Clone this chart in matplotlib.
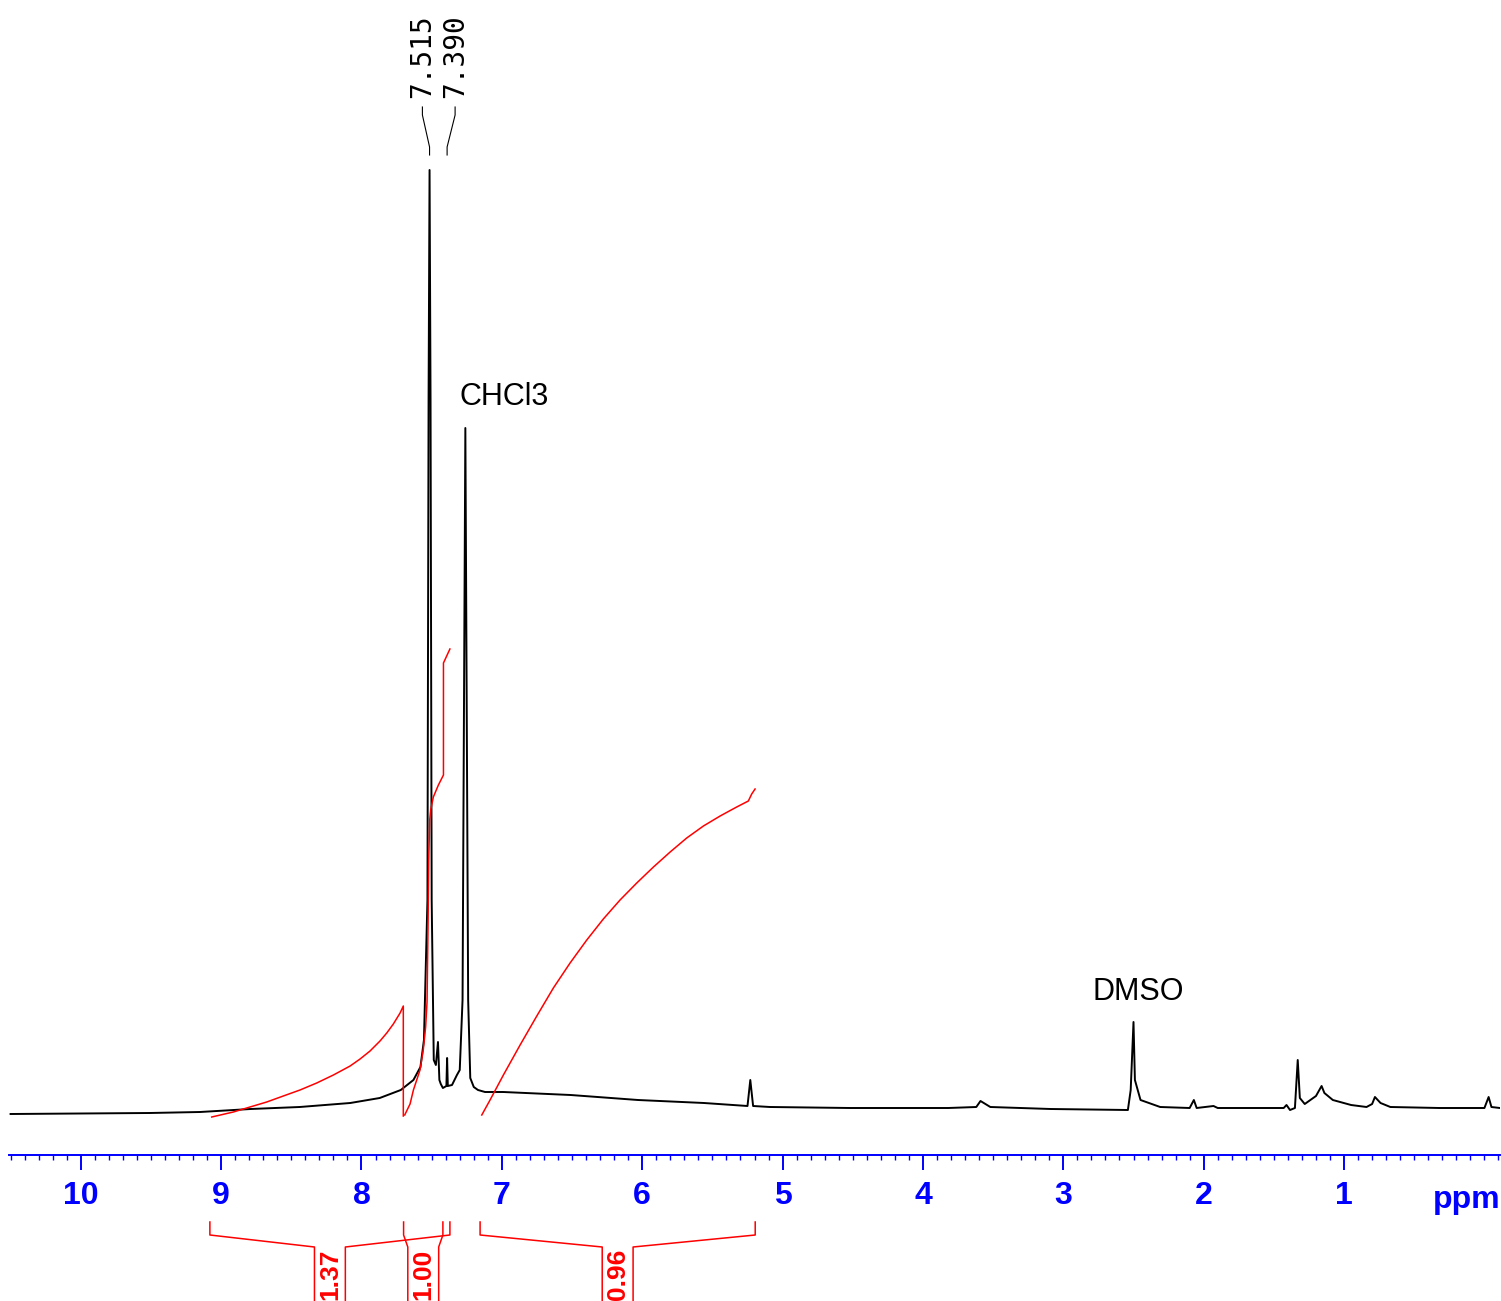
import matplotlib
matplotlib.use("Agg")
import matplotlib.pyplot as plt
from matplotlib.ticker import MultipleLocator

# 1H NMR spectrum (ppm, intensity in arbitrary units)
spec_ppm = [10.50, 9.51, 9.15, 8.79, 8.44, 8.08, 7.87, 7.72, 7.63, 7.58, 7.555, 7.53,
            7.522, 7.515, 7.508, 7.50, 7.485, 7.47, 7.455, 7.445, 7.435, 7.42, 7.395,
            7.39, 7.385, 7.355, 7.32, 7.30, 7.28, 7.26, 7.24, 7.225, 7.20, 7.17, 7.12,
            6.99, 6.51, 6.03, 5.56, 5.25, 5.23, 5.21, 5.09, 4.52, 3.82, 3.62, 3.59,
            3.52, 3.09, 2.54, 2.52, 2.50, 2.49, 2.45, 2.31, 2.10, 2.07, 2.05, 1.93,
            1.90, 1.43, 1.41, 1.385, 1.35, 1.33, 1.315, 1.28, 1.20, 1.16, 1.14, 1.08,
            0.95, 0.84, 0.80, 0.78, 0.74, 0.67, 0.32, 0.0, -0.03, -0.05, -0.11]
spec_int = [-2, -1, 0, 3, 5, 9, 14, 22, 32, 45, 72, 212,
            712, 942, 712, 212, 52, 47, 70, 32, 28, 24, 26,
            54, 26, 27, 37, 42, 112, 684, 112, 34, 25, 22, 20,
            20, 17, 12, 9, 6, 32, 6, 5, 4, 4, 5, 11,
            5, 3, 2, 22, 90, 32, 12, 5, 4, 12, 4, 6,
            4, 4, 7, 2, 4, 52, 14, 8, 16, 26, 19, 12,
            7, 5, 8, 15, 9, 5, 4, 4, 15, 5, 4]

# integral curves
int1_ppm = [9.067, 8.913, 8.794, 8.675, 8.557, 8.438, 8.319, 8.200, 8.081, 8.010,
            7.939, 7.868, 7.820, 7.773, 7.725, 7.702, 7.702]
int1_val = [-5, 0, 5, 10, 16, 22, 29, 37, 46, 53,
            61, 71, 79, 88, 99, 106, -4]
int2_ppm = [7.692, 7.654, 7.63, 7.583, 7.56, 7.543, 7.533, 7.526, 7.521, 7.514,
            7.507, 7.488, 7.452, 7.416, 7.416, 7.37]
int2_val = [-3, 8, 22, 42, 62, 85, 110, 185, 252, 292,
            302, 315, 327, 337, 449, 463]
int3_ppm = [7.143, 7.084, 6.989, 6.870, 6.751, 6.633, 6.514, 6.395, 6.277, 6.158,
            6.039, 5.920, 5.801, 5.683, 5.564, 5.445, 5.327, 5.244, 5.220, 5.196]
int3_val = [-3, 12, 37, 67, 96, 124, 149, 172, 193, 212,
            229, 245, 260, 274, 286, 296, 305, 311, 318, 323]

# integral regions and values
reg_start = [9.08, 7.70, 7.155]
reg_end = [7.37, 7.42, 5.195]
reg_label = ["1.37", "1.00", "0.96"]

# peak picking labels
peak_ppm = [7.515, 7.390]
peak_label_ppm = [7.566, 7.333]
peak_text = ["7.515", "7.390"]

xticks = [10, 9, 8, 7, 6, 5, 4, 3, 2, 1]

W, H = 1501, 1301
fig = plt.figure(figsize=(W / 100, H / 100), dpi=100)
x0, x1 = 9.3 / W, 1500 / W
ax = fig.add_axes([x0, (H - 1155) / H, x1 - x0, 1155 / H])
ax.plot(spec_ppm, spec_int, color="black", lw=1.4)
for p, v in [(int1_ppm, int1_val), (int2_ppm, int2_val), (int3_ppm, int3_val)]:
    ax.plot(p, v, color="red", lw=1.1)

ax.set_xlim(10.509, -0.111)
ax.set_ylim(-43, 1112)
for s in ["top", "left", "right"]:
    ax.spines[s].set_visible(False)
ax.spines["bottom"].set_color("blue")
ax.spines["bottom"].set_linewidth(1.4)
ax.set_yticks([])
ax.set_xticks(xticks)
ax.set_xticklabels([str(t) for t in xticks])
ax.xaxis.set_minor_locator(MultipleLocator(0.1))
ax.tick_params(axis="x", which="major", length=10.8, width=1.4, color="blue",
               labelcolor="blue", labelsize=23, pad=8)
ax.tick_params(axis="x", which="minor", length=3.6, width=1.0, color="blue")
for lab in ax.get_xticklabels():
    lab.set_fontweight("bold")
    lab.set_family("Liberation Sans")
ax.text(-0.111, -96, "ppm", color="blue", fontsize=23, fontweight="bold",
        family="Liberation Sans", ha="right", va="baseline", clip_on=False)

# solvent labels
ax.text(7.30, 707, "CHCl3", fontsize=22, family="Liberation Sans", ha="left", va="baseline")
ax.text(2.795, 112, "DMSO", fontsize=22, family="Liberation Sans", ha="left", va="baseline")

# peak labels with leader lines
for pk, lp, t in zip(peak_ppm, peak_label_ppm, peak_text):
    ax.text(lp, 1014, t, rotation=90, fontsize=20, family="DejaVu Sans Mono",
            ha="center", va="bottom")
    ax.plot([lp, lp, pk, pk], [1005, 997, 965, 957], color="black", lw=0.8, clip_on=False)

# integral brackets below the axis
ax2 = fig.add_axes([x0, 0, x1 - x0, 86 / H])
ax2.set_xlim(10.509, -0.111)
ax2.set_ylim(0, 86)
ax2.axis("off")
hw = 0.11
for a, b, t in zip(reg_start, reg_end, reg_label):
    c = (a + b) / 2
    ax2.plot([a, a, c + hw, c + hw], [79, 66, 54, -5], color="red", lw=1.1, clip_on=False)
    ax2.plot([b, b, c - hw, c - hw], [79, 66, 54, -5], color="red", lw=1.1, clip_on=False)
    ax2.text(c, 52, t, rotation=90, color="red", fontsize=19, fontweight="bold",
             family="Liberation Sans", ha="center", va="top", clip_on=False)

fig.savefig("out.png", dpi=100)
